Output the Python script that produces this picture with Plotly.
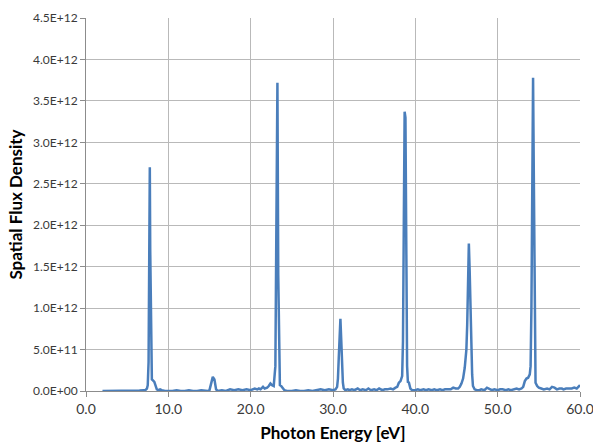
import plotly.graph_objects as go

# Photon energy [eV]
energy = [
    2.0, 2.5, 3.0, 3.5, 4.0, 4.5, 5.0, 5.5, 6.0, 6.5, 7.0,
    7.2, 7.4, 7.5, 7.6, 7.7, 7.75, 7.8, 7.9, 8.0, 8.1, 8.2, 8.3, 8.4, 8.5, 8.6, 8.8, 9.0, 9.2, 9.4,
    9.6, 10.0, 10.5, 11.0, 11.5, 12.0, 12.5, 13.0, 13.5, 14.0, 14.5, 14.8,
    15.0, 15.2, 15.4, 15.6, 15.8, 16.0,
    16.5, 17.0, 17.5, 18.0, 18.5, 19.0, 19.5, 20.0, 20.5, 20.8, 21.0, 21.2, 21.5, 21.7,
    22.0, 22.2, 22.4, 22.6, 22.8, 23.0, 23.1, 23.25, 23.35, 23.45, 23.55, 23.7, 23.9, 24.1, 24.4,
    25.0, 25.5, 26.0, 26.5, 27.0, 27.5, 28.0, 28.5, 29.0, 29.5, 30.0, 30.3,
    30.5, 30.6, 30.7, 30.8, 30.9, 31.0, 31.1, 31.2, 31.3, 31.5,
    31.8, 32.0, 32.3, 32.6, 33.0, 33.3, 33.6, 34.0, 34.3, 34.6, 35.0, 35.3, 35.6, 36.0,
    36.3, 36.6, 37.0, 37.3, 37.6, 37.8, 38.0, 38.2, 38.4,
    38.5, 38.6, 38.7, 38.8, 38.9, 39.0, 39.1, 39.2, 39.3, 39.4, 39.6,
    40.0, 40.3, 40.6, 41.0, 41.3, 41.6, 42.0, 42.3, 42.6, 43.0, 43.3, 43.6, 44.0, 44.3, 44.6, 44.9,
    45.2, 45.4, 45.6, 45.8, 46.0, 46.2, 46.3, 46.4, 46.5, 46.6, 46.7, 46.8, 46.9, 47.0, 47.2,
    47.5, 47.8, 48.0, 48.4, 48.7, 49.0, 49.3, 49.6, 50.0, 50.3, 50.6, 51.0, 51.3, 51.6,
    52.0, 52.3, 52.6, 52.9, 53.1, 53.3, 53.5, 53.7, 53.9,
    54.0, 54.1, 54.2, 54.3, 54.4, 54.5, 54.6, 54.8, 55.0,
    55.3, 55.6, 56.0, 56.3, 56.6, 56.9, 57.2, 57.5, 57.8, 58.0, 58.3, 58.6, 59.0, 59.3, 59.6, 60.0,
]

# Spatial flux density, in units of 1E+12
flux = [
    0.0, 0.0, 0.0, 0.0, 0.0, 0.0, 0.0, 0.0, 0.0, 0.005, 0.01,
    0.01, 0.03, 0.07, 0.35, 1.6, 2.70, 1.7, 0.35, 0.14, 0.13, 0.12, 0.11, 0.08, 0.04, 0.02, 0.01, 0.02, 0.01, 0.0,
    0.0, 0.0, 0.0, 0.01, 0.0, 0.0, 0.01, 0.0, 0.0, 0.01, 0.0, 0.0,
    0.01, 0.08, 0.17, 0.14, 0.02, 0.0,
    0.01, 0.0, 0.02, 0.01, 0.02, 0.01, 0.02, 0.01, 0.03, 0.02, 0.03, 0.02, 0.05, 0.03,
    0.04, 0.06, 0.09, 0.07, 0.06, 0.3, 1.5, 3.72, 1.4, 0.2, 0.07, 0.06, 0.03, 0.01, 0.0,
    0.0, 0.01, 0.0, 0.0, 0.01, 0.0, 0.01, 0.02, 0.01, 0.02, 0.01, 0.02,
    0.05, 0.15, 0.40, 0.75, 0.87, 0.62, 0.30, 0.10, 0.03, 0.01,
    0.02, 0.01, 0.02, 0.01, 0.03, 0.01, 0.02, 0.01, 0.03, 0.01, 0.02, 0.01, 0.03, 0.01,
    0.02, 0.02, 0.03, 0.02, 0.04, 0.05, 0.10, 0.12, 0.18,
    0.6, 2.0, 3.37, 3.30, 1.4, 0.3, 0.10, 0.11, 0.07, 0.03, 0.01,
    0.01, 0.02, 0.01, 0.02, 0.01, 0.02, 0.01, 0.02, 0.01, 0.02, 0.01, 0.02, 0.02, 0.02, 0.04, 0.03,
    0.03, 0.05, 0.09, 0.15, 0.28, 0.50, 0.80, 1.30, 1.78, 1.45, 0.90, 0.45, 0.20, 0.06, 0.02,
    0.01, 0.01, 0.02, 0.01, 0.04, 0.02, 0.01, 0.02, 0.01, 0.02, 0.02, 0.01, 0.02, 0.01,
    0.02, 0.03, 0.02, 0.03, 0.05, 0.12, 0.15, 0.16, 0.20,
    0.3, 1.0, 3.0, 3.78, 2.5, 0.6, 0.10, 0.06, 0.04,
    0.03, 0.02, 0.03, 0.02, 0.05, 0.04, 0.02, 0.03, 0.03, 0.02, 0.03, 0.03, 0.03, 0.04, 0.03, 0.07,
]

x_ticks = [0, 10, 20, 30, 40, 50, 60]
x_tick_text = ["0.0", "10.0", "20.0", "30.0", "40.0", "50.0", "60.0"]
y_ticks = [0.0, 0.5, 1.0, 1.5, 2.0, 2.5, 3.0, 3.5, 4.0, 4.5]
y_tick_text = ["0.0E+00", "5.0E+11", "1.0E+12", "1.5E+12", "2.0E+12",
               "2.5E+12", "3.0E+12", "3.5E+12", "4.0E+12", "4.5E+12"]

fig = go.Figure()
fig.add_trace(go.Scatter(
    x=energy, y=flux, mode="lines",
    line=dict(color="#4a7ebb", width=2.5),
    hoverinfo="skip", showlegend=False,
))

title_font = dict(family="Lato", size=17, color="#000000")

fig.update_layout(
    width=593, height=443,
    margin=dict(l=86, r=13, t=18, b=52),
    paper_bgcolor="white", plot_bgcolor="white",
    xaxis=dict(
        range=[0, 60.0005], tickvals=x_ticks, ticktext=x_tick_text,
        showgrid=True, gridcolor="#b9b9b9", gridwidth=1,
        showline=True, linecolor="#8c8c8c", linewidth=1,
        ticks="outside", ticklen=5, tickcolor="#8c8c8c",
        tickfont=dict(family="Lato", size=14, color="#3a3a3a"),
        ticklabeloverflow="allow",
        title=dict(text="<b>Photon Energy [eV]</b>", font=title_font, standoff=16),
        zeroline=False, automargin=False,
    ),
    yaxis=dict(
        range=[0, 4.5001], tickvals=y_ticks, ticktext=y_tick_text,
        showgrid=True, gridcolor="#b9b9b9", gridwidth=1,
        showline=True, linecolor="#8c8c8c", linewidth=1,
        ticks="outside", ticklen=5, tickcolor="#8c8c8c",
        tickfont=dict(family="Lato", size=12, color="#3a3a3a"),
        ticklabeloverflow="allow",
        title=dict(text="<b>Spatial Flux Density</b>", font=title_font, standoff=6),
        zeroline=False, automargin=False,
    ),
)

fig.write_html("out.html")
